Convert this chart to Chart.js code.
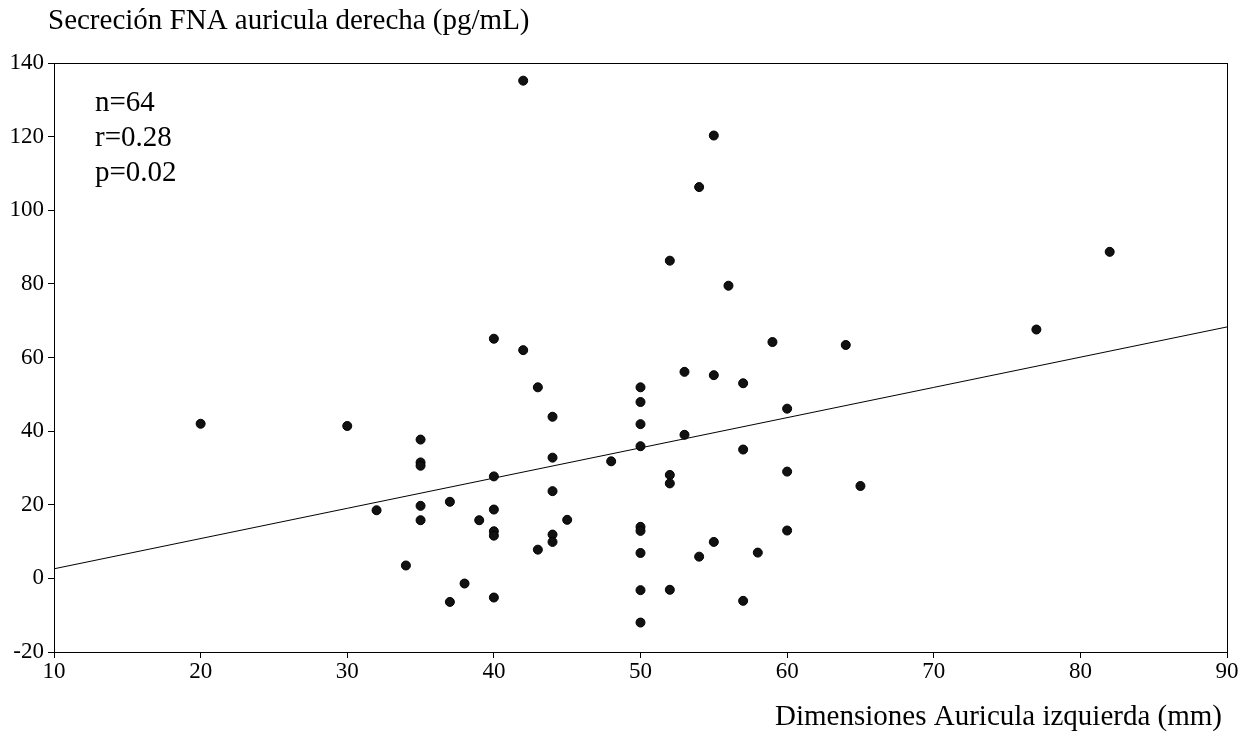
<!DOCTYPE html>
<html>
<head>
<meta charset="utf-8">
<script src="https://cdn.jsdelivr.net/npm/chart.js@4/dist/chart.umd.min.js"></script>
<style>
  html, body { margin: 0; padding: 0; background: #fff; }
  canvas { display: block; }
</style>
</head>
<body>
<canvas id="grafico" width="1255" height="751"></canvas>
<script>
// dimensiones de la aurícula izquierda (mm)
const auriculaIzq = [
    20, 30, 32, 34, 35, 35, 35, 35, 35, 37, 37, 38, 39,
    40, 40, 40, 40, 40, 40, 42, 42, 43, 43,
    44, 44, 44, 44, 44, 45, 48,
    50, 50, 50, 50, 50, 50, 50, 50, 50,
    52, 52, 52, 52, 53, 53, 54, 54, 55, 55, 55, 56,
    57, 57, 57, 58, 59, 60, 60, 60, 64, 65, 77, 82
];
// secreción de FNA en aurícula derecha (pg/mL)
const fnaDerecha = [
    42.0, 41.4, 18.5, 3.5, 37.7, 31.5, 30.6, 19.7, 15.8, 20.8, -6.4, -1.4, 15.8,
    65.1, 27.7, 18.7, 12.8, 11.6, -5.2, 62.0, 135.2, 51.9, 7.8,
    43.9, 32.8, 23.7, 11.9, 9.9, 15.9, 31.8,
    51.9, 47.9, 41.9, 35.9, 14.0, 12.9, 6.9, -3.2, -12.0,
    28.1, 25.8, -3.1, 86.3, 56.1, 39.0, 106.3, 5.9, 120.3, 55.2, 9.9, 79.5,
    53.0, 35.0, -6.1, 7.0, 64.2, 46.1, 29.0, 13.0, 63.4, 25.1, 67.6, 88.7
];
// recta de regresión, extremos en x = 10 y x = 90
const rectaX = [10, 90];
const rectaY = [2.6, 68.3];

const ticksX = [10, 20, 30, 40, 50, 60, 70, 80, 90];
const ticksY = [-20, 0, 20, 40, 60, 80, 100, 120, 140];

const estadisticos = ['n=64', 'r=0.28', 'p=0.02'];
const tituloY = 'Secreción FNA auricula derecha (pg/mL)';
const tituloX = 'Dimensiones Auricula izquierda (mm)';

const fuente = '"Liberation Serif", "Times New Roman", serif';

const puntos = auriculaIzq.map((x, i) => ({ x: x, y: fnaDerecha[i] }));
const recta = rectaX.map((x, i) => ({ x: x, y: rectaY[i] }));

// marco completo y textos fuera de los ejes
const textosPlugin = {
    id: 'textos',
    afterDraw(chart) {
        const ctx = chart.ctx;
        const a = chart.chartArea;
        ctx.save();
        ctx.strokeStyle = '#000';
        ctx.lineWidth = 1;
        ctx.strokeRect(a.left + 0.5, a.top + 0.5, a.right - a.left, a.bottom - a.top);

        ctx.fillStyle = '#000';
        ctx.font = '29px ' + fuente;
        ctx.textBaseline = 'middle';
        ctx.textAlign = 'left';
        ctx.fillText(tituloY, 48, 21);
        estadisticos.forEach((t, i) => {
            ctx.fillText(t, 95, 103 + i * 35);
        });
        ctx.textAlign = 'right';
        ctx.fillText(tituloX, 1222, 717);
        ctx.restore();
    }
};

new Chart(document.getElementById('grafico'), {
    type: 'scatter',
    data: {
        datasets: [{
            data: puntos,
            backgroundColor: '#111',
            borderColor: '#000',
            borderWidth: 1,
            pointRadius: 4.5
        }, {
            type: 'line',
            data: recta,
            borderColor: '#000',
            borderWidth: 1,
            pointRadius: 0,
            fill: false
        }]
    },
    options: {
        responsive: false,
        animation: false,
        layout: { padding: { top: 63, right: 28, left: 0, bottom: 0 } },
        plugins: {
            legend: { display: false },
            tooltip: { enabled: false }
        },
        scales: {
            x: {
                type: 'linear',
                min: 10,
                max: 90,
                afterFit(scale) { scale.height = 99; },
                afterBuildTicks(scale) { scale.ticks = ticksX.map(v => ({ value: v })); },
                grid: { drawOnChartArea: false, drawTicks: true, tickLength: 6, color: '#000' },
                border: { display: true, color: '#000', width: 1 },
                ticks: { color: '#000', padding: 0, font: { family: fuente, size: 23 } }
            },
            y: {
                type: 'linear',
                min: -20,
                max: 140,
                afterFit(scale) { scale.width = 54; },
                afterBuildTicks(scale) { scale.ticks = ticksY.map(v => ({ value: v })); },
                grid: { drawOnChartArea: false, drawTicks: true, tickLength: 6, color: '#000' },
                border: { display: true, color: '#000', width: 1 },
                ticks: { color: '#000', padding: 4, font: { family: fuente, size: 23 } }
            }
        }
    },
    plugins: [textosPlugin]
});
</script>
</body>
</html>
